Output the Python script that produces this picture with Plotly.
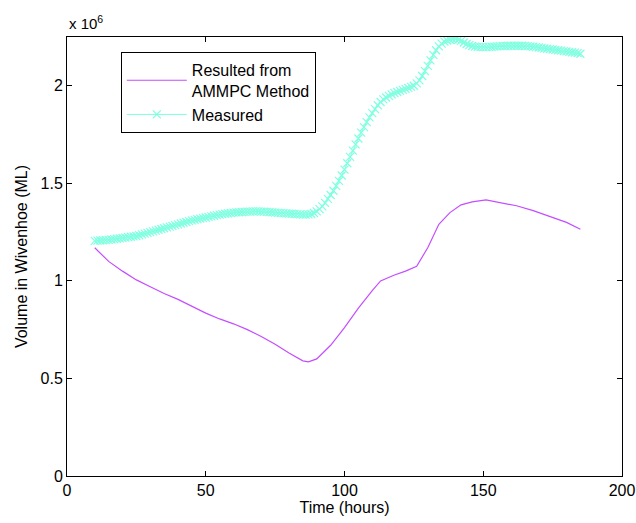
import plotly.graph_objects as go

# Measured volume, hourly from t=10 to t=185 (units of 1e6 ML)
measured_t = list(range(10, 186))
measured_v = [
    1.205, 1.206, 1.207, 1.208, 1.209, 1.210, 1.212, 1.214, 1.216, 1.218,
    1.220, 1.222, 1.224, 1.226, 1.228, 1.230, 1.234, 1.238, 1.242, 1.246,
    1.250, 1.254, 1.258, 1.262, 1.266, 1.270, 1.274, 1.278, 1.282, 1.286,
    1.290, 1.294, 1.298, 1.302, 1.306, 1.310, 1.313, 1.316, 1.319, 1.322,
    1.325, 1.328, 1.331, 1.334, 1.337, 1.340, 1.342, 1.344, 1.346, 1.348,
    1.350, 1.351, 1.352, 1.353, 1.354, 1.355, 1.355, 1.356, 1.356, 1.356,
    1.355, 1.355, 1.354, 1.353, 1.352, 1.350, 1.349, 1.348, 1.347, 1.346,
    1.345, 1.344, 1.343, 1.342, 1.341, 1.340, 1.340, 1.341, 1.343, 1.348,
    1.356, 1.368, 1.382, 1.400, 1.420, 1.440, 1.462, 1.487, 1.513, 1.540,
    1.570, 1.603, 1.636, 1.668, 1.700, 1.730, 1.760, 1.788, 1.814, 1.838,
    1.860, 1.880, 1.900, 1.917, 1.930, 1.940, 1.948, 1.956, 1.962, 1.968,
    1.974, 1.979, 1.984, 1.989, 1.994, 2.000, 2.012, 2.028, 2.050, 2.075,
    2.102, 2.130, 2.158, 2.182, 2.202, 2.216, 2.226, 2.232, 2.236, 2.238,
    2.238, 2.236, 2.230, 2.222, 2.214, 2.208, 2.204, 2.201, 2.199, 2.198,
    2.198, 2.198, 2.199, 2.200, 2.201, 2.202, 2.203, 2.204, 2.204, 2.205,
    2.205, 2.205, 2.205, 2.205, 2.205, 2.204, 2.203, 2.202, 2.200, 2.198,
    2.196, 2.194, 2.192, 2.190, 2.188, 2.186, 2.184, 2.182, 2.180, 2.178,
    2.176, 2.174, 2.172, 2.170, 2.167, 2.164,
]

# AMMPC result (units of 1e6 ML)
ammpc_t = [10, 15, 20, 25, 30, 35, 40, 45, 50, 55, 60, 65, 70, 75, 80, 85, 87,
           90, 95, 100, 105, 110, 113, 118, 122, 126, 130, 134, 138, 142, 146,
           151, 156, 162, 168, 174, 180, 185]
ammpc_v = [1.17, 1.10, 1.05, 1.005, 0.97, 0.935, 0.905, 0.87, 0.835, 0.805,
           0.78, 0.75, 0.715, 0.675, 0.63, 0.59, 0.585, 0.60, 0.67, 0.76,
           0.86, 0.95, 1.0, 1.03, 1.05, 1.075, 1.17, 1.29, 1.35, 1.39, 1.405,
           1.415, 1.40, 1.385, 1.36, 1.33, 1.30, 1.265]

y_ticks = [0, 0.5e6, 1e6, 1.5e6, 2e6]
y_tick_text = ['0', '0.5', '1', '1.5', '2']
x_ticks = [0, 50, 100, 150, 200]

font = 'Liberation Sans, Arial, sans-serif'

fig = go.Figure()

fig.add_trace(go.Scatter(
    x=ammpc_t,
    y=[v * 1e6 for v in ammpc_v],
    mode='lines',
    name='Resulted from<br>AMMPC Method',
    line=dict(color='#C44DFF', width=1.2),
))

fig.add_trace(go.Scatter(
    x=measured_t,
    y=[v * 1e6 for v in measured_v],
    mode='lines+markers',
    name='Measured',
    line=dict(color='#7FFFE0', width=1),
    marker=dict(symbol='x-thin', size=8, color='#7FFFE0',
                line=dict(color='#7FFFE0', width=1.2)),
))

axis_common = dict(
    showline=True, linecolor='black', linewidth=1, mirror='ticks',
    ticks='inside', ticklen=5, tickcolor='black',
    showgrid=False, zeroline=False, automargin=False,
    tickfont=dict(family=font, size=16, color='black'),
)

fig.update_layout(
    width=636, height=523,
    margin=dict(l=67, r=14, t=37, b=47, autoexpand=False),
    plot_bgcolor='white', paper_bgcolor='white',
    font=dict(family=font, size=16, color='black'),
    xaxis=dict(range=[0, 200], tickvals=x_ticks,
               title=dict(text='Time (hours)', standoff=2,
                          font=dict(family=font, size=16)),
               **axis_common),
    yaxis=dict(range=[0, 2.25e6], tickvals=y_ticks, ticktext=y_tick_text,
               title=dict(text='Volume in Wivenhoe (ML)', standoff=8,
                          font=dict(family=font, size=16)),
               **axis_common),
    legend=dict(x=0.097, y=0.966, xanchor='left', yanchor='top',
                bordercolor='black', borderwidth=1, bgcolor='white',
                font=dict(family=font, size=16), tracegroupgap=0,
                itemwidth=60),
    showlegend=True,
    annotations=[dict(
        x=0, y=1, xref='paper', yref='paper', xanchor='left', yanchor='bottom',
        text='x 10<sup>6</sup>', showarrow=False, yshift=3,
        font=dict(family=font, size=15, color='black'),
    )],
)

# drop the browser's default body margin so the figure fills the window
fig.write_html(
    'out.html',
    config={'displayModeBar': False},
    post_script="document.body.style.margin='0';"
                "document.body.style.overflow='hidden';",
)
